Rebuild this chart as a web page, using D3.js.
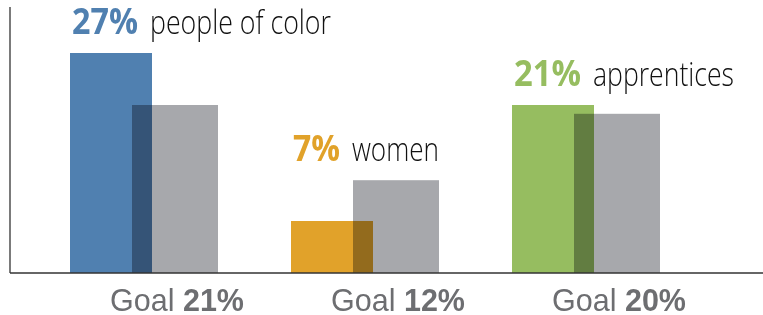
<!DOCTYPE html>
<html>
<head>
<meta charset="utf-8">
<script src="https://cdn.jsdelivr.net/npm/d3@7/dist/d3.min.js"></script>
<style>
  html, body { margin: 0; padding: 0; background: #ffffff; }
  svg { display: block; }
</style>
</head>
<body>
<svg id="chart" width="763" height="315"></svg>
<script>
// ---- data ----
const categories   = ["people of color", "women", "apprentices"];
const actualValues = [27.5, 6.5, 21];
const goalValues   = [21, 11.6, 19.9];
const actualLabels = ["27%", "7%", "21%"];
const goalLabels   = ["21%", "12%", "20%"];
const colors       = ["#5080b0", "#e1a22a", "#96bd60"];

// ---- layout ----
const W = 763, H = 315;
const baseY = 273, axisX = 10;
const svg = d3.select("#chart");

const x = d3.scaleBand()
  .domain(categories)
  .range([70, 661])
  .paddingInner(72 / 221)
  .paddingOuter(0);
const y = d3.scaleLinear().domain([0, 30]).range([baseY, baseY - 240]);

const barW = 82, goalOff = 62, goalW = 86;

const data = categories.map((c, i) => ({
  cat: c, actual: actualValues[i], goal: goalValues[i],
  aLabel: actualLabels[i], gLabel: goalLabels[i], color: colors[i]
}));

// colored bars
svg.append("g").selectAll("rect").data(data).join("rect")
  .attr("x", d => x(d.cat))
  .attr("y", d => y(d.actual))
  .attr("width", barW)
  .attr("height", d => y(0) - y(d.actual))
  .attr("fill", d => d.color);

// goal bars (multiply blend over the colored bars)
svg.append("g").selectAll("rect").data(data).join("rect")
  .attr("x", d => x(d.cat) + goalOff)
  .attr("y", d => y(d.goal))
  .attr("width", goalW)
  .attr("height", d => y(0) - y(d.goal))
  .attr("fill", "#a7a8ac")
  .style("mix-blend-mode", "multiply");

// axes lines
svg.append("line")
  .attr("x1", axisX).attr("x2", axisX)
  .attr("y1", 7).attr("y2", baseY)
  .attr("stroke", "#333").attr("stroke-width", 1.3);
svg.append("line")
  .attr("x1", axisX).attr("x2", W)
  .attr("y1", baseY).attr("y2", baseY)
  .attr("stroke", "#333").attr("stroke-width", 1.3);

// top labels (condensed via horizontal scale)
const pctW  = { "27%": 66, "7%": 47, "21%": 67 };
const wordW = { "people of color": 181, "women": 87, "apprentices": 141 };
const labelFont = "'Open Sans', 'DejaVu Sans', sans-serif";

function condensedText(tx, ty, str, targetW, opts) {
  const g = svg.append("g");
  const t = g.append("text")
    .attr("x", 0).attr("y", 0)
    .attr("font-family", labelFont)
    .attr("font-weight", opts.weight)
    .attr("font-size", opts.size)
    .attr("fill", opts.fill)
    .text(str);
  const natural = t.node().getComputedTextLength();
  const sx = natural > 0 ? targetW / natural : 1;
  g.attr("transform", `translate(${tx},${ty}) scale(${sx},1)`);
  return g;
}

data.forEach(d => {
  const bx = x(d.cat) + 2;
  const by = y(Math.max(d.actual, d.goal)) - 19;
  condensedText(bx, by, d.aLabel, pctW[d.aLabel], { weight: 700, size: 35, fill: d.color });
  condensedText(bx + pctW[d.aLabel] + 12, by, d.cat, wordW[d.cat], { weight: 300, size: 33, fill: "#111" });
});

// goal labels: "Goal " regular + percentage bold, centred on the goal bar
const goalFont = "'Liberation Sans', Arial, sans-serif";
data.forEach(d => {
  const g = svg.append("g");
  const t1 = g.append("text")
    .attr("x", 0).attr("y", 311)
    .attr("font-family", goalFont).attr("font-size", 30.5)
    .attr("fill", "#6d6e71").text("Goal");
  const w1 = t1.node().getComputedTextLength();
  const gap = 8.5;
  const t2 = g.append("text")
    .attr("x", w1 + gap).attr("y", 311)
    .attr("font-family", goalFont).attr("font-size", 30.5)
    .attr("font-weight", 700)
    .attr("fill", "#6d6e71").text(d.gLabel);
  const total = w1 + gap + t2.node().getComputedTextLength();
  const cx = x(d.cat) + goalOff + goalW / 2 + 2;
  g.attr("transform", `translate(${cx - total / 2},0)`);
});
</script>
</body>
</html>
